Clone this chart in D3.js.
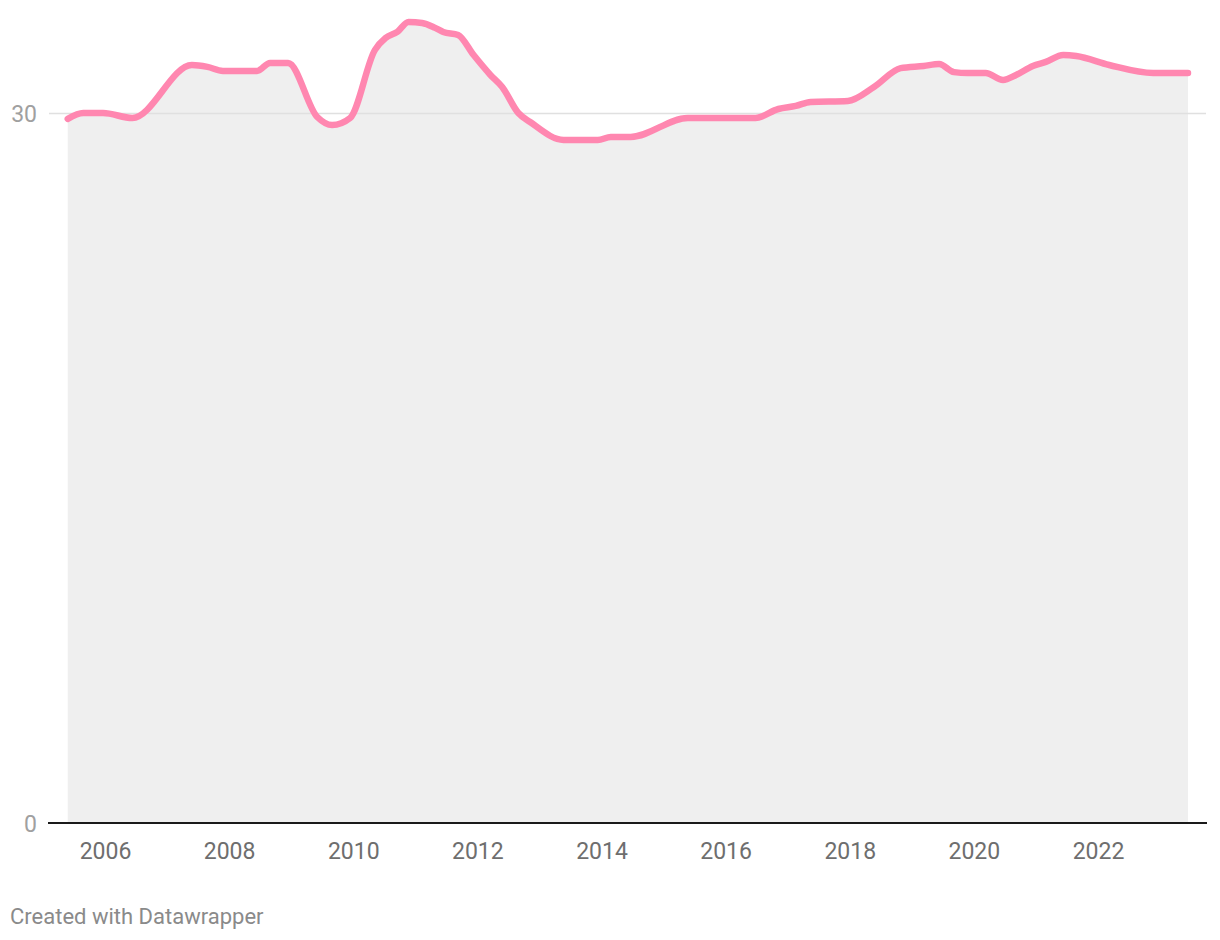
<!DOCTYPE html>
<html>
<head>
<meta charset="utf-8">
<script src="https://cdn.jsdelivr.net/npm/d3@7"></script>
<style>
  html, body { margin: 0; padding: 0; background: #fff; }
  svg { display: block; font-family: Roboto, "Noto Sans", sans-serif; }
</style>
</head>
<body>
<svg id="chart" width="1220" height="940"></svg>
<script>
// Decimal years of each point
const years = [
  2005.40, 2005.65, 2005.97, 2006.44, 2007.40, 2007.65, 2007.90, 2008.45, 2008.66, 2008.95,
  2009.42, 2009.66, 2009.95, 2010.35, 2010.52, 2010.71, 2010.89, 2011.11, 2011.32, 2011.45,
  2011.69, 2011.94, 2012.21, 2012.40, 2012.66, 2012.85, 2013.39, 2013.94, 2014.15, 2014.47,
  2015.39, 2016.48, 2016.85, 2017.13, 2017.37, 2017.97, 2018.39, 2018.82, 2019.19, 2019.44,
  2019.68, 2019.90, 2020.19, 2020.47, 2020.68, 2020.95, 2021.16, 2021.44, 2021.65, 2022.18,
  2022.89, 2023.45
];
const values = [
  29.77, 30.02, 30.02, 29.81, 32.05, 31.97, 31.80, 31.80, 32.14, 32.14,
  29.85, 29.51, 29.81, 32.69, 33.19, 33.45, 33.87, 33.83, 33.62, 33.45,
  33.32, 32.47, 31.63, 31.12, 30.02, 29.64, 28.88, 28.88, 29.01, 29.01,
  29.81, 29.81, 30.19, 30.32, 30.49, 30.53, 31.12, 31.92, 32.01, 32.09,
  31.75, 31.71, 31.71, 31.42, 31.63, 32.01, 32.18, 32.47, 32.43, 32.05,
  31.71, 31.71
];
const xTicks = [2006, 2008, 2010, 2012, 2014, 2016, 2018, 2020, 2022];
const yTicks = [0, 30];
const footer = "Created with Datawrapper";

const data = years.map((t, i) => ({ t, v: values[i] }));
const svg = d3.select("#chart");

const x = d3.scaleLinear().domain([2006, 2022]).range([105, 1098]);
const y = d3.scaleLinear().domain([0, 30]).range([823, 113.5]);

// area
svg.append("path")
  .datum(data)
  .attr("fill", "#efefef")
  .attr("d", d3.area().x(d => x(d.t)).y0(y(0)).y1(d => y(d.v)).curve(d3.curveMonotoneX));

// gridline at 30
svg.append("g")
  .selectAll("line")
  .data(yTicks.filter(d => d !== 0))
  .join("line")
  .attr("x1", 49).attr("x2", 1206)
  .attr("y1", d => y(d)).attr("y2", d => y(d))
  .attr("stroke", "#e0e0e0").attr("stroke-width", 1.5);

// y labels
svg.append("g")
  .selectAll("text")
  .data(yTicks)
  .join("text")
  .attr("x", 37)
  .attr("y", d => y(d) + 8.5)
  .attr("text-anchor", "end")
  .attr("font-size", 23)
  .attr("fill", "#a0a0a0")
  .text(d => d);

// line
svg.append("path")
  .datum(data)
  .attr("fill", "none")
  .attr("stroke", "#ff87b0")
  .attr("stroke-width", 6.5)
  .attr("stroke-linecap", "round")
  .attr("stroke-linejoin", "round")
  .attr("d", d3.line().x(d => x(d.t)).y(d => y(d.v)).curve(d3.curveMonotoneX));

// x axis
const xAxis = svg.append("g")
  .attr("transform", `translate(0,${y(0)})`)
  .call(d3.axisBottom(x).tickValues(xTicks).tickFormat(d3.format("d")).tickSize(0).tickPadding(0));
xAxis.select(".domain").remove();
xAxis.selectAll("text")
  .attr("y", 35.5)
  .attr("dy", null)
  .attr("font-size", 23)
  .attr("font-family", "Roboto, sans-serif")
  .attr("fill", "#6e6e6e");

svg.append("line")
  .attr("x1", 48).attr("x2", 1207)
  .attr("y1", y(0)).attr("y2", y(0))
  .attr("stroke", "#1a1a1a").attr("stroke-width", 2);

svg.append("text")
  .attr("x", 10).attr("y", 924)
  .attr("font-size", 22)
  .attr("fill", "#8a8a8a")
  .text(footer);
</script>
</body>
</html>
